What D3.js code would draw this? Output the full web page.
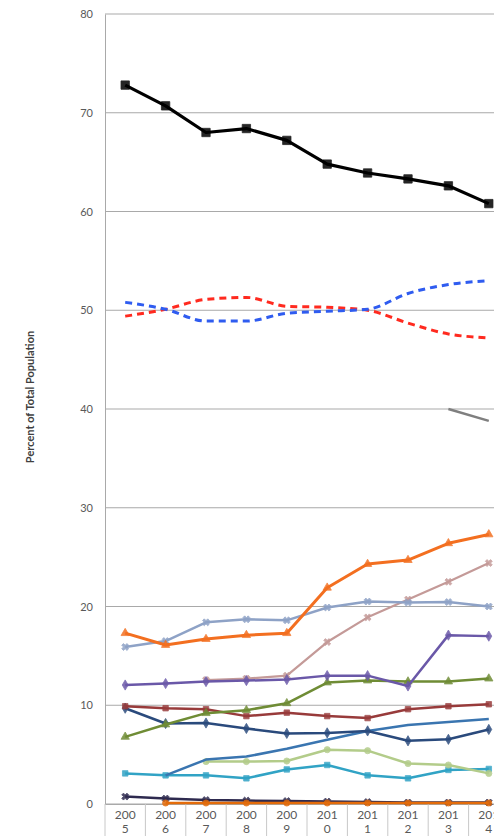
<!DOCTYPE html>
<html><head><meta charset="utf-8">
<script src="https://cdn.jsdelivr.net/npm/d3@7"></script>
<style>body{margin:0;background:#fff}svg{display:block}</style>
</head><body><svg id="c" width="494" height="836"></svg>
<script>
const years = ["2005","2006","2007","2008","2009","2010","2011","2012","2013","2014"];
const yTicks = [0,10,20,30,40,50,60,70,80];
const yTitle = "Percent of Total Population";

const blackSeries   = [72.8,70.7,68.0,68.4,67.2,64.8,63.9,63.3,62.6,60.8];
const blueDashed    = [50.8,50.1,48.9,48.9,49.7,49.9,50.1,51.7,52.6,53.0];
const redDashed     = [49.4,50.1,51.1,51.3,50.4,50.3,50.0,48.7,47.6,47.2];
const graySeries    = [null,null,null,null,null,null,null,null,40.0,38.8];
const orangeTri     = [17.3,16.1,16.7,17.1,17.3,21.9,24.3,24.7,26.4,27.3];
const blueGrayX     = [15.9,16.5,18.4,18.7,18.6,19.9,20.5,20.4,20.45,20.0];
const mauveSeries   = [null,null,12.55,12.7,13.0,16.4,18.9,20.7,22.5,24.4];
const purpleSeries  = [12.05,12.2,12.4,12.5,12.6,13.0,13.0,11.95,17.1,17.0];
const oliveTri      = [6.8,8.05,9.2,9.5,10.2,12.3,12.5,12.4,12.4,12.7];
const darkRedSq     = [9.9,9.7,9.6,8.9,9.25,8.9,8.7,9.6,9.9,10.1];
const darkBlueDia   = [9.7,8.15,8.2,7.65,7.15,7.2,7.4,6.4,6.55,7.55];
const steelBlue     = [null,2.9,4.5,4.8,5.6,6.5,7.4,8.0,8.3,8.6];
const lightGreen    = [null,null,4.3,4.3,4.35,5.5,5.4,4.1,3.95,3.1];
const cyanSq        = [3.1,2.9,2.9,2.6,3.5,3.95,2.9,2.6,3.45,3.55];
const darkPurpleX   = [0.75,0.55,0.4,0.35,0.3,0.25,0.2,0.15,0.15,0.15];
const orangeCircle  = [null,0.1,0.1,0.1,0.1,0.1,0.1,0.1,0.1,0.1];

const series = [
  {v: graySeries,   c:"#7f7f7f", w:2.5, sym:null},
  {v: darkPurpleX,  c:"#2e2a4f", w:2.5, sym:d3.symbolCross},
  {v: orangeCircle, c:"#e46c0a", w:2.5, sym:d3.symbolCircle},
  {v: cyanSq,       c:"#31a3c5", w:2.5, sym:d3.symbolSquare},
  {v: lightGreen,   c:"#b3cc8a", w:2.5, sym:d3.symbolCircle},
  {v: steelBlue,    c:"#3a75b0", w:2.5, sym:null},
  {v: darkBlueDia,  c:"#2a4a7c", w:2.5, sym:d3.symbolDiamond},
  {v: darkRedSq,    c:"#983b3b", w:2.5, sym:d3.symbolSquare},
  {v: oliveTri,     c:"#6f8c35", w:2.5, sym:d3.symbolTriangle},
  {v: mauveSeries,  c:"#c49a98", w:2.2, sym:d3.symbolCross},
  {v: purpleSeries, c:"#6a58a8", w:2.5, sym:d3.symbolDiamond},
  {v: blueGrayX,    c:"#8ea2c6", w:2.5, sym:d3.symbolCross},
  {v: orangeTri,    c:"#f36f20", w:3,   sym:d3.symbolTriangle},
  {v: redDashed,    c:"#ff2a1f", w:3, dash:"7,5", curve:true},
  {v: blueDashed,   c:"#2f5cf0", w:3, dash:"7,5", curve:true},
  {v: blackSeries,  c:"#000000", w:3.2, sym:d3.symbolSquare, big:true}
];

const svg = d3.select("#c");
const x = d3.scaleBand().domain(years).range([105, 509]).padding(0);
const y = d3.scaleLinear().domain([0,80]).range([804, 14]);
const font = "Lato, 'Open Sans', sans-serif";

// gridlines
svg.append("g").selectAll("line").data(yTicks).join("line")
  .attr("x1", 105).attr("x2", 494)
  .attr("y1", d => y(d)).attr("y2", d => y(d))
  .attr("stroke", "#a9a9a9").attr("stroke-width", 1);

// y axis
const ya = svg.append("g").attr("transform","translate(105,0)")
  .call(d3.axisLeft(y).tickValues(yTicks).tickSize(0).tickPadding(12));
ya.select(".domain").attr("stroke","#a9a9a9");
ya.selectAll("text").attr("font-family", font).attr("font-size", 11).attr("fill","#595959");

// x axis
const xa = svg.append("g").attr("transform","translate(0,804)")
  .call(d3.axisBottom(x).tickSize(0).tickFormat(""));
xa.select(".domain").attr("stroke","#a9a9a9");
const bounds = years.map(d => x(d)).concat([x(years[years.length-1]) + x.bandwidth()]);
svg.append("g").selectAll("line").data(bounds).join("line")
  .attr("x1", d => d).attr("x2", d => d).attr("y1", 804).attr("y2", 836)
  .attr("stroke","#c8c8c8").attr("stroke-width",1);
const lbl = svg.append("g").selectAll("text").data(years).join("text")
  .attr("text-anchor","middle").attr("font-family", font).attr("font-size", 12)
  .attr("fill","#595959");
lbl.append("tspan").attr("x", d => x(d) + x.bandwidth()/2).attr("y", 819).text(d => d.slice(0,3));
lbl.append("tspan").attr("x", d => x(d) + x.bandwidth()/2).attr("y", 833).text(d => d.slice(3));

// y title
svg.append("text").attr("transform","translate(34,397) rotate(-90)")
  .attr("text-anchor","middle").attr("font-family", font).attr("font-weight","bold")
  .attr("font-size", 11).attr("fill","#404040").text(yTitle);

// lines
const cx = d => x(d) + x.bandwidth()/2;
series.forEach(s => {
  const pts = years.map((yr,i) => ({yr, v: s.v[i]}));
  const line = d3.line().defined(d => d.v != null).x(d => cx(d.yr)).y(d => y(d.v))
    .curve(s.curve ? d3.curveMonotoneX : d3.curveLinear);
  svg.append("path").datum(pts).attr("d", line).attr("fill","none")
    .attr("stroke", s.c).attr("stroke-width", s.w)
    .attr("stroke-dasharray", s.dash || null).attr("stroke-linejoin","round");
  if (s.sym) {
    svg.append("g").selectAll("path").data(pts.filter(d => d.v != null)).join("path")
      .attr("transform", d => `translate(${cx(d.yr)},${y(d.v)})` + (s.sym === d3.symbolCross ? " rotate(45)" : ""))
      .attr("d", d3.symbol().type(s.sym).size(s.big ? 70 : 30))
      .attr("fill", s.c).attr("stroke", s.c).attr("stroke-width", 0.8).attr("opacity", 0.85);
  }
});
</script></body></html>
